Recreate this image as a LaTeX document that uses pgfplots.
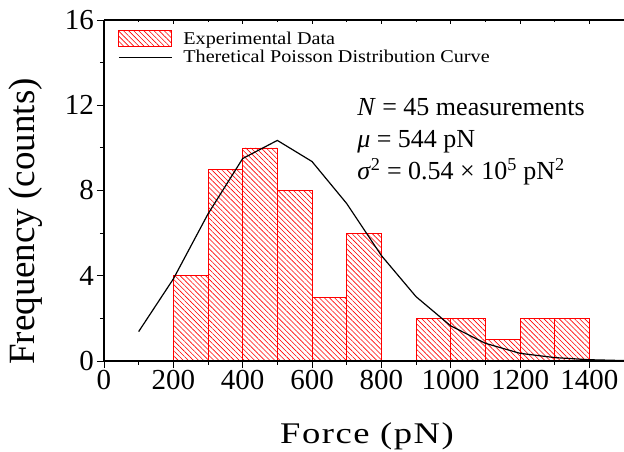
\documentclass[border=0pt]{standalone}
\usepackage{fontspec}
\setmainfont{Liberation Serif}
\newfontfamily\xlblfont[FakeStretch=1.22,LetterSpace=5]{Liberation Serif}
\newfontfamily\legfont[FakeStretch=1.12]{Liberation Serif}
\usepackage{pgfplots}
\pgfplotsset{compat=1.18}
\usetikzlibrary{patterns.meta,calc}
\pgfplotsset{
  barleg/.style={legend image code/.code={\draw[##1] (0pt,-8pt) rectangle (53pt,8pt);}},
  lineleg/.style={legend image code/.code={\draw[##1] (0pt,0pt) -- (53pt,0pt);}},
}
\begin{document}
\begin{tikzpicture}
\begin{axis}[
  scale only axis, width=520pt, height=341pt,
  xmin=0, xmax=1500, ymin=0, ymax=16,
  axis x line*=bottom, axis y line*=left,
  axis on top,
  xtick={0,200,...,1400}, minor xtick={100,300,...,1500},
  ytick={0,4,...,16}, minor ytick={2,6,...,14},
  tick align=outside, major tick length=7pt, minor tick length=4pt,
  every tick/.style={black, line width=0.9pt},
  axis line style={line width=1.1pt},
  /pgf/number format/assume math mode=true,
  /pgf/number format/1000 sep={},
  xticklabel style={font=\fontsize{29}{29}\selectfont, inner sep=2pt},
  yticklabel style={font=\fontsize{29}{29}\selectfont, inner sep=3pt},
  xlabel={\xlblfont\fontsize{30}{32}\selectfont Force (pN)},
  xlabel style={at={($(axis description cs:0.5,0)+(3pt,-83pt)$)}, anchor=base, inner sep=0pt},
  ylabel={\fontsize{37}{40}\selectfont Frequency (counts)},
  ylabel style={at={($(axis description cs:0,0)+(-61pt,-4pt)$)}, anchor=south west, inner sep=0pt},
  legend style={draw=none, fill=none, inner sep=0pt, at={(axis description cs:0,1)}, anchor=north west,
    xshift=14pt, yshift=-10pt,
    font=\legfont\fontsize{18}{20}\selectfont, row sep=2.5pt,
    nodes={inner sep=1pt},
    /tikz/every odd column/.style={column sep=10pt}},
  legend cell align=left,
]
\addplot[ybar interval, draw=red, line width=0.7pt,
  pattern={Lines[angle=-45,distance=3.6pt,line width=0.6pt]}, pattern color=red, barleg]
  coordinates {(200,4)(300,9)(400,10)(500,8)(600,3)(700,6)(800,0)(900,2)(1000,2)(1100,1)(1200,2)(1300,2)(1400,2)};
\addlegendentry{Experimental Data}
\addplot[black, line width=1.2pt, lineleg]
  coordinates {(100,1.38)(200,3.85)(300,6.9)(400,9.5)(500,10.35)(600,9.36)(700,7.39)(800,4.95)(900,3.02)(1000,1.65)(1100,0.83)(1200,0.36)(1300,0.16)(1400,0.06)(1500,0.02)};
\addlegendentry{Theretical Poisson Distribution Curve}
\node[anchor=base west, font=\fontsize{26}{26}\selectfont, inner sep=0pt] at (axis cs:730,11.5) {\textit{N} = 45 measurements};
\node[anchor=base west, font=\fontsize{26}{26}\selectfont, inner sep=0pt] at (axis cs:730,10.0) {\textit{μ} = 544 pN};
\node[anchor=base west, font=\fontsize{26}{26}\selectfont, inner sep=0pt] at (axis cs:730,8.5) {\textit{σ}\textsuperscript{2} = 0.54 × 10\textsuperscript{5} pN\textsuperscript{2}};
\end{axis}
\begin{axis}[
  scale only axis, width=520pt, height=341pt,
  xmin=0, xmax=1500, ymin=0, ymax=16,
  axis x line*=top, axis y line=none,
  xtick={0,200,...,1400}, minor xtick={100,300,...,1500},
  xticklabels={}, ytick=\empty,
  tick align=inside, major tick length=4pt, minor tick length=2.5pt,
  every tick/.style={black, line width=0.9pt},
  axis line style={line width=1.1pt},
]
\end{axis}
\pgfresetboundingbox
\path ($(current axis.south west)+(-104pt,-91pt)$) rectangle ($(current axis.north east)+(0pt,20pt)$);
\end{tikzpicture}
\end{document}
